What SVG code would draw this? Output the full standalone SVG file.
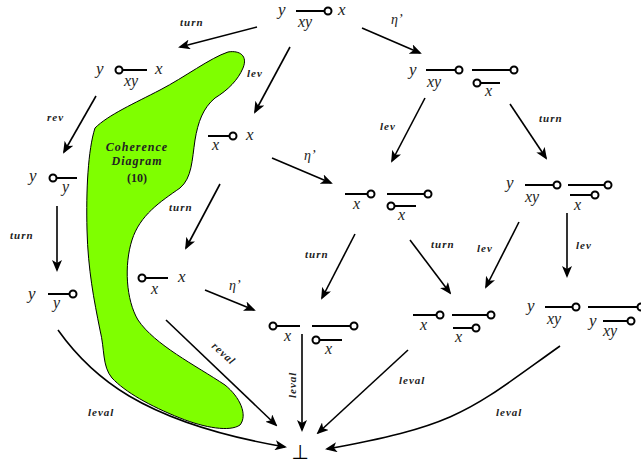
<svg xmlns="http://www.w3.org/2000/svg" width="641" height="465" viewBox="0 0 641 465">
  <style>
    .m { font-family: "Liberation Serif", "DejaVu Serif", serif; font-style: italic; font-size: 17px; fill: #222; }
    .s { font-family: "Liberation Serif", "DejaVu Serif", serif; font-style: italic; font-size: 16px; fill: #222; }
    .lbl { font-family: "Liberation Serif", "DejaVu Serif", serif; font-style: italic; font-weight: bold; font-size: 11px; letter-spacing: 1px; fill: #222; }
    .eta { font-family: "Liberation Serif", "DejaVu Serif", serif; font-style: italic; font-size: 14px; fill: #222; }
    .w { stroke: #000; stroke-width: 2; fill: none; }
    .o { stroke: #000; stroke-width: 2; fill: #fff; }
    .e { stroke: #000; stroke-width: 1.6; fill: none; marker-end: url(#ah); }
    .blobtxt { font-family: "Liberation Serif", "DejaVu Serif", serif; font-style: italic; font-weight: bold; font-size: 12px; letter-spacing: 1px; fill: #222; text-anchor: middle; }
  </style>
  <defs>
    <marker id="ah" viewBox="0 0 12 10" refX="10" refY="5" markerWidth="12" markerHeight="10" markerUnits="userSpaceOnUse" orient="auto">
      <path d="M0,0 L12,5 L0,10 L3,5 z" fill="#000"/>
    </marker>
  </defs>
  <rect width="641" height="465" fill="#fff"/>

  <!-- coherence region -->
  <g id="blob">
    <path d="M228,52 C240,50 248,56 243,68 C238,80 228,90 215,98 C203,108 198,122 195,140 C192,160 192,178 180,188 C160,202 140,215 132,240 C124,265 126,300 138,320 C155,345 195,365 225,385 C240,397 248,415 240,425 C230,432 205,428 180,418 C150,406 125,392 112,378 C102,366 105,350 100,330 C94,300 88,270 87,230 C86,190 88,150 95,128 C108,115 135,103 160,90 C185,77 210,58 228,52 Z" fill="#7fff00" stroke="#000" stroke-width="1"/>
    <text class="blobtxt" x="137" y="151">Coherence</text>
    <text class="blobtxt" x="137" y="165">Diagram</text>
    <text class="blobtxt" x="137" y="182" style="font-style:normal;letter-spacing:0">(10)</text>
  </g>

  <!-- connectors -->
  <g id="edges">
    <path class="e" d="M257,27 L180,47"/>
    <path class="e" d="M290,47 L255,112"/>
    <path class="e" d="M362,28 L420,53"/>
    <path class="e" d="M96,96 L64,152"/>
    <path class="e" d="M425,98 L392,161"/>
    <path class="e" d="M510,104 L546,158"/>
    <path class="e" d="M272,158 L331,183"/>
    <path class="e" d="M220,184 L186,248"/>
    <path class="e" d="M57,206 L57,270"/>
    <path class="e" d="M355,234 L322,298"/>
    <path class="e" d="M410,240 L450,293"/>
    <path class="e" d="M519,222 L486,287"/>
    <path class="e" d="M567,213 L567,276"/>
    <path class="e" d="M205,290 L254,310"/>
    <path class="e" d="M166,320 L276,425"/>
    <path class="e" d="M302,334 L302,430"/>
    <path class="e" d="M408,350 L318,433"/>
    <path class="e" d="M560,346 C470,410 460,425 327,449"/>
    <path class="e" d="M58,330 C90,375 140,422 285,447"/>

    <text class="lbl" x="180" y="26">turn</text>
    <text class="lbl" x="247" y="77">lev</text>
    <text class="eta" x="391" y="24">η’</text>
    <text class="lbl" x="47" y="121">rev</text>
    <text class="lbl" x="380" y="130">lev</text>
    <text class="lbl" x="539" y="122">turn</text>
    <text class="eta" x="304" y="160">η’</text>
    <text class="lbl" x="169" y="211">turn</text>
    <text class="lbl" x="10" y="239">turn</text>
    <text class="lbl" x="305" y="258">turn</text>
    <text class="lbl" x="431" y="248">turn</text>
    <text class="lbl" x="477" y="252">lev</text>
    <text class="lbl" x="576" y="249">lev</text>
    <text class="eta" x="229" y="290">η’</text>
    <text class="lbl" transform="translate(211,347) rotate(42)">reval</text>
    <text class="lbl" transform="translate(296,398) rotate(-90)">leval</text>
    <text class="lbl" x="399" y="384">leval</text>
    <text class="lbl" x="496" y="416">leval</text>
    <text class="lbl" x="88" y="416">leval</text>
  </g>

  <!-- nodes -->
  <g id="n-top">
    <text class="m" x="278" y="15">y</text>
    <line class="w" x1="296" y1="11" x2="324" y2="11"/>
    <circle class="o" cx="328" cy="11" r="3.5"/>
    <text class="m" x="338" y="15">x</text>
    <text class="s" x="298" y="27">xy</text>
  </g>
  <g id="n-l1">
    <text class="m" x="96" y="74">y</text>
    <circle class="o" cx="119" cy="70" r="3.5"/>
    <line class="w" x1="123" y1="70" x2="147" y2="70"/>
    <text class="m" x="155" y="74">x</text>
    <text class="s" x="124" y="86">xy</text>
  </g>
  <g id="n-r1">
    <text class="m" x="409" y="75">y</text>
    <line class="w" x1="426" y1="70" x2="455" y2="70"/>
    <circle class="o" cx="459" cy="70" r="3.5"/>
    <line class="w" x1="472" y1="70" x2="510" y2="70"/>
    <circle class="o" cx="514" cy="70" r="3.5"/>
    <text class="s" x="427" y="87">xy</text>
    <circle class="o" cx="477" cy="83" r="3.5"/>
    <line class="w" x1="481" y1="83" x2="500" y2="83"/>
    <text class="s" x="485" y="96">x</text>
  </g>
  <g id="n-l2">
    <line class="w" x1="208" y1="136" x2="229" y2="136"/>
    <circle class="o" cx="233" cy="136" r="3.5"/>
    <text class="m" x="246" y="140">x</text>
    <text class="s" x="212" y="150">x</text>
  </g>
  <g id="n-m2">
    <line class="w" x1="345" y1="194" x2="367" y2="194"/>
    <circle class="o" cx="371" cy="194" r="3.5"/>
    <line class="w" x1="387" y1="194" x2="424" y2="194"/>
    <circle class="o" cx="428" cy="194" r="3.5"/>
    <text class="s" x="353" y="209">x</text>
    <circle class="o" cx="391" cy="206" r="3.5"/>
    <line class="w" x1="395" y1="206" x2="416" y2="206"/>
    <text class="s" x="398" y="220">x</text>
  </g>
  <g id="n-r2">
    <text class="m" x="506" y="188">y</text>
    <line class="w" x1="525" y1="185" x2="553" y2="185"/>
    <circle class="o" cx="557" cy="185" r="3.5"/>
    <line class="w" x1="568" y1="185" x2="604" y2="185"/>
    <circle class="o" cx="608" cy="185" r="3.5"/>
    <text class="s" x="525" y="202">xy</text>
    <line class="w" x1="570" y1="195" x2="591" y2="195"/>
    <circle class="o" cx="595" cy="195" r="3.5"/>
    <text class="s" x="574" y="210">x</text>
  </g>
  <g id="n-l3">
    <text class="m" x="29" y="181">y</text>
    <circle class="o" cx="53" cy="178" r="3.5"/>
    <line class="w" x1="57" y1="178" x2="77" y2="178"/>
    <text class="s" x="62" y="192">y</text>
  </g>
  <g id="n-l4">
    <text class="m" x="28" y="299">y</text>
    <line class="w" x1="48" y1="294" x2="69" y2="294"/>
    <circle class="o" cx="73" cy="294" r="3.5"/>
    <text class="s" x="53" y="308">y</text>
  </g>
  <g id="n-l5">
    <circle class="o" cx="142" cy="278" r="3.5"/>
    <line class="w" x1="146" y1="278" x2="168" y2="278"/>
    <text class="m" x="178" y="282">x</text>
    <text class="s" x="151" y="294">x</text>
  </g>
  <g id="n-m3">
    <circle class="o" cx="273" cy="326" r="3.5"/>
    <line class="w" x1="277" y1="326" x2="300" y2="326"/>
    <line class="w" x1="312" y1="326" x2="350" y2="326"/>
    <circle class="o" cx="354" cy="326" r="3.5"/>
    <text class="s" x="284" y="341">x</text>
    <circle class="o" cx="316" cy="340" r="3.5"/>
    <line class="w" x1="320" y1="340" x2="342" y2="340"/>
    <text class="s" x="325" y="354">x</text>
  </g>
  <g id="n-m4">
    <line class="w" x1="413" y1="315" x2="436" y2="315"/>
    <circle class="o" cx="440" cy="315" r="3.5"/>
    <line class="w" x1="452" y1="315" x2="487" y2="315"/>
    <circle class="o" cx="491" cy="315" r="3.5"/>
    <text class="s" x="420" y="330">x</text>
    <line class="w" x1="453" y1="328" x2="472" y2="328"/>
    <circle class="o" cx="476" cy="328" r="3.5"/>
    <text class="s" x="455" y="342">x</text>
  </g>
  <g id="n-r3">
    <text class="m" x="527" y="311">y</text>
    <line class="w" x1="545" y1="307" x2="572" y2="307"/>
    <circle class="o" cx="576" cy="307" r="3.5"/>
    <line class="w" x1="588" y1="307" x2="637" y2="307"/>
    <circle class="o" cx="641" cy="307" r="3.5"/>
    <text class="s" x="547" y="324">xy</text>
    <text class="m" x="589" y="326">y</text>
    <line class="w" x1="603" y1="321" x2="627" y2="321"/>
    <circle class="o" cx="631" cy="321" r="3.5"/>
    <text class="s" x="603" y="336">xy</text>
  </g>
  <g id="n-bot">
    <text x="300" y="459" style="font-family:'DejaVu Sans','Liberation Sans',sans-serif;font-size:20px;fill:#000" text-anchor="middle">⊥</text>
  </g>
</svg>
